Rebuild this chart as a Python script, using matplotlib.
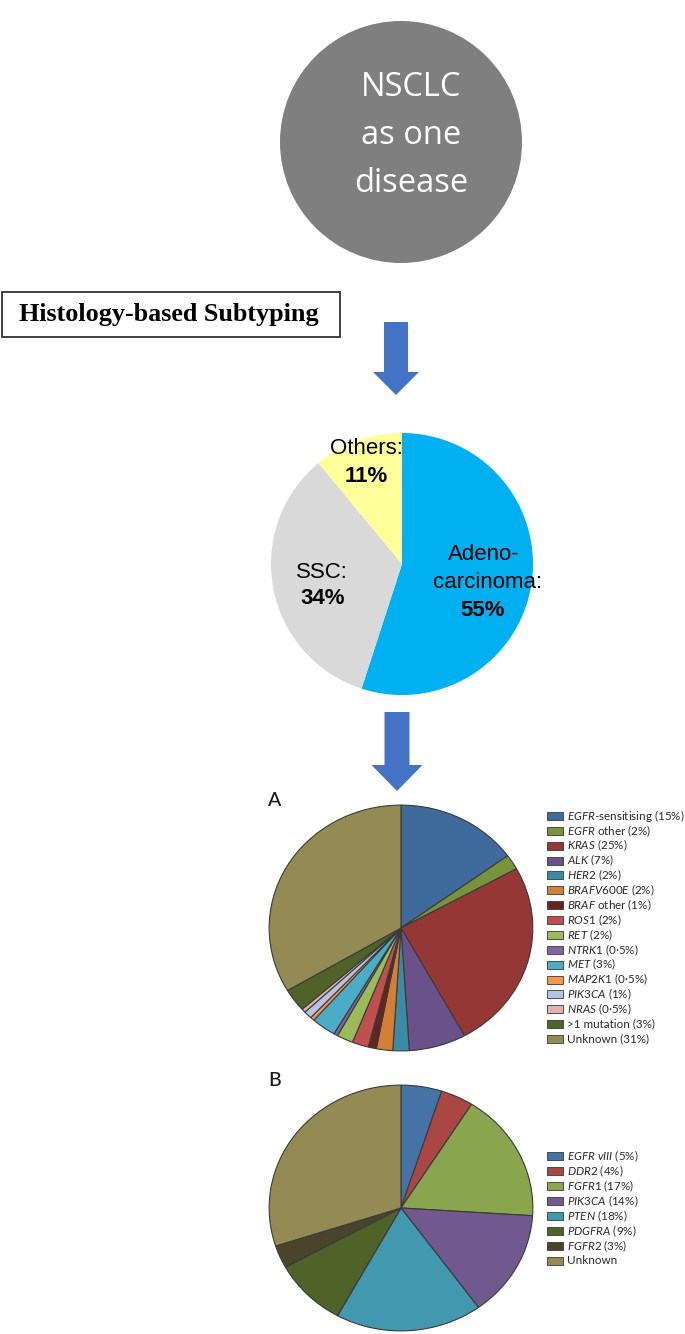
import matplotlib
matplotlib.use("Agg")
import matplotlib.pyplot as plt
from matplotlib.patches import Circle, Rectangle, FancyArrow

plt.rcParams['mathtext.fontset'] = 'custom'
plt.rcParams['mathtext.it'] = 'Lato:italic'
plt.rcParams['mathtext.rm'] = 'Lato'

# ---------------- data ----------------
hist_labels = ["Adenocarcinoma", "SSC", "Others"]
hist_values = [55, 34, 11]
hist_colors = ["#00b0f0", "#d9d9d9", "#ffff99"]

a_labels = [r"$\mathit{EGFR}$-sensitising (15%)", r"$\mathit{EGFR}$ other (2%)",
            r"$\mathit{KRAS}$ (25%)", r"$\mathit{ALK}$ (7%)", r"$\mathit{HER2}$ (2%)",
            r"$\mathit{BRAFV600E}$ (2%)", r"$\mathit{BRAF}$ other (1%)",
            r"$\mathit{ROS1}$ (2%)", r"$\mathit{RET}$ (2%)", r"$\mathit{NTRK1}$ (0·5%)",
            r"$\mathit{MET}$ (3%)", r"$\mathit{MAP2K1}$ (0·5%)", r"$\mathit{PIK3CA}$ (1%)",
            r"$\mathit{NRAS}$ (0·5%)", ">1 mutation (3%)", "Unknown (31%)"]
a_values = [15, 2, 25, 7, 2, 2, 1, 2, 2, 0.5, 3, 0.5, 1, 0.5, 3, 33.5]
a_colors = ["#3f6a9c", "#77933c", "#953735", "#6a5189", "#3b8ba5", "#d47f35",
            "#632523", "#c0504d", "#9bbb59", "#8064a2", "#4bacc6", "#f79646",
            "#b4c4e0", "#e0b0b0", "#4f6228", "#948a54"]

b_labels = [r"$\mathit{EGFR\ vIII}$ (5%)", r"$\mathit{DDR2}$ (4%)", r"$\mathit{FGFR1}$ (17%)",
            r"$\mathit{PIK3CA}$ (14%)", r"$\mathit{PTEN}$ (18%)", r"$\mathit{PDGFRA}$ (9%)",
            r"$\mathit{FGFR2}$ (3%)", "Unknown"]
b_values = [5, 4, 17, 14, 18, 9, 3, 30]
b_colors = ["#4572a7", "#aa4643", "#89a54e", "#71588f", "#4198af", "#4f6228",
            "#4a452a", "#948a54"]

W, H = 685, 1334
fig = plt.figure(figsize=(W / 100, H / 100), dpi=100)

# overlay axes in pixel coordinates (drawn on top of the pies)
ov = fig.add_axes([0, 0, 1, 1])
ov.set_xlim(0, W)
ov.set_ylim(H, 0)
ov.axis('off')
ov.set_zorder(10)

# top circle
ov.add_patch(Circle((401, 142), 121, color="#7f7f7f", lw=0))
for txt, y in zip(["NSCLC", "as one", "disease"], [87, 135, 183]):
    ov.text(411, y, txt, color="white", fontsize=23.5, family="Open Sans",
            ha="center", va="center")

# Histology box
ov.add_patch(Rectangle((2, 292), 338, 45, fill=False, ec="#333333", lw=1.3))
ov.text(169, 314, "Histology-based Subtyping", family="Liberation Serif",
        fontweight="bold", fontsize=18.8, ha="center", va="center")

# arrows
arrow_c = "#4472c4"
ov.add_patch(FancyArrow(396, 322, 0, 73, width=24, head_width=46, head_length=23,
                        length_includes_head=True, color=arrow_c, lw=0))
ov.add_patch(FancyArrow(397, 712, 0, 79, width=25, head_width=51, head_length=26,
                        length_includes_head=True, color=arrow_c, lw=0))


def pie_axes(cx, cy, rx, ry):
    return fig.add_axes([(cx - rx) / W, 1 - (cy + ry) / H, 2 * rx / W, 2 * ry / H])


# middle pie
axm = pie_axes(402, 564, 131, 131)
axm.pie(hist_values, colors=hist_colors, startangle=90, counterclock=False,
        radius=1, wedgeprops=dict(lw=0))
axm.set_aspect('auto')
axm.set_xlim(-1, 1)
axm.set_ylim(-1, 1)
axm.axis('off')

fs = 16
ov.text(366, 449, "Others:", fontsize=fs, family="Liberation Sans", ha="center", va="center")
ov.text(366, 476, "11%", fontsize=fs, family="Liberation Sans", fontweight="bold", ha="center", va="center")
ov.text(322, 572, "SSC:", fontsize=fs, family="Liberation Sans", ha="center", va="center")
ov.text(323, 598, "34%", fontsize=fs, family="Liberation Sans", fontweight="bold", ha="center", va="center")
ov.text(484, 555, "Adeno-", fontsize=fs, family="Liberation Sans", ha="center", va="center")
ov.text(488, 582, "carcinoma:", fontsize=fs, family="Liberation Sans", ha="center", va="center")
ov.text(483, 610, "55%", fontsize=fs, family="Liberation Sans", fontweight="bold", ha="center", va="center")

# pie A
axa = pie_axes(401, 928, 132.5, 123.5)
axa.pie(a_values, colors=a_colors, startangle=90, counterclock=False,
        wedgeprops=dict(lw=0.8, edgecolor="#3a3a3a"))
axa.set_aspect('auto')
axa.set_xlim(-1.005, 1.005)
axa.set_ylim(-1.005, 1.005)
axa.axis('off')
ov.text(275, 800, "A", fontsize=14, family="Lato", fontweight="medium",
        ha="center", va="center", color="#1a1a1a")

# pie B
axb = pie_axes(401, 1208, 132.5, 123.5)
axb.pie(b_values, colors=b_colors, startangle=90, counterclock=False,
        wedgeprops=dict(lw=0.8, edgecolor="#3a3a3a"))
axb.set_aspect('auto')
axb.set_xlim(-1.005, 1.005)
axb.set_ylim(-1.005, 1.005)
axb.axis('off')
ov.text(275, 1080, "B", fontsize=14, family="Lato", fontweight="medium",
        ha="center", va="center", color="#1a1a1a")


def legend(labels, colors, y0, dy):
    for i, (lab, col) in enumerate(zip(labels, colors)):
        y = y0 + i * dy
        ov.add_patch(Rectangle((547, y - 4), 16, 8, fc=col, ec="#3a3a3a", lw=0.6))
        ov.text(567, y, lab, fontsize=8.4, family="Lato", color="#2a2a2a",
                ha="left", va="center")


legend(a_labels, a_colors, 816, 14.87)
legend(b_labels, b_colors, 1156, 15)

fig.savefig("out.png", dpi=100)
